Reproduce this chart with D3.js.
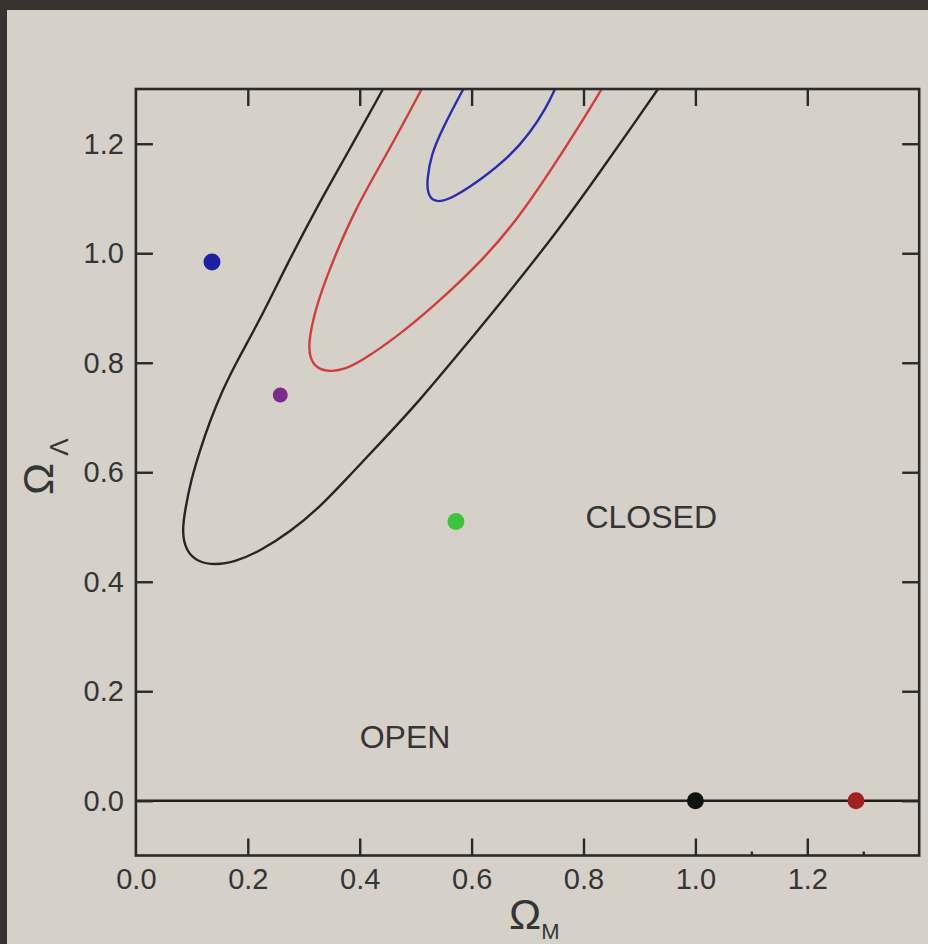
<!DOCTYPE html>
<html>
<head>
<meta charset="utf-8">
<script src="https://cdn.jsdelivr.net/npm/d3@7"></script>
<style>
  html, body { margin: 0; padding: 0; background: #d6d1c8; }
  svg { display: block; }
</style>
</head>
<body>
<script>
// ---- Data ----
const xTicks = [0.0, 0.2, 0.4, 0.6, 0.8, 1.0, 1.2];
const yTicks = [0.0, 0.2, 0.4, 0.6, 0.8, 1.0, 1.2];
const xMinorTicks = [1.1, 1.3];

// Confidence contours, traced points [Omega_M, Omega_Lambda]
const contourOuter = [
  [0.4416, 1.300], [0.3796, 1.1854], [0.3220, 1.0816], [0.2690, 0.9775],
  [0.2230, 0.8811], [0.1800, 0.8018], [0.1550, 0.7501], [0.1330, 0.6954],
  [0.1146, 0.6406], [0.0985, 0.5858], [0.0878, 0.5310], [0.0824, 0.4908],
  [0.0895, 0.4561], [0.1110, 0.4360], [0.1414, 0.4305], [0.1771, 0.4360],
  [0.2218, 0.4561], [0.2754, 0.4908], [0.3290, 0.5364], [0.3827, 0.5949],
  [0.4452, 0.6625], [0.5078, 0.7319], [0.5793, 0.8196], [0.6561, 0.9146],
  [0.7580, 1.0460], [0.8295, 1.1483], [0.8885, 1.2342], [0.9332, 1.300]
];
const contourMiddle = [
  [0.5108, 1.300], [0.4511, 1.1854], [0.3916, 1.0816], [0.3439, 0.9662],
  [0.3201, 0.8962], [0.3081, 0.8354], [0.3112, 0.8086], [0.3219, 0.7903],
  [0.3469, 0.7830], [0.3737, 0.7885], [0.4005, 0.8013], [0.4661, 0.8469],
  [0.5346, 0.9054], [0.6150, 0.9821], [0.6811, 1.0607], [0.7397, 1.1483],
  [0.7934, 1.2342], [0.8325, 1.300]
];
const contourInner = [
  [0.5852, 1.300], [0.5480, 1.2281], [0.5274, 1.1794], [0.5203, 1.1337],
  [0.5212, 1.1100], [0.5310, 1.0953], [0.5471, 1.0944], [0.5703, 1.1036],
  [0.6204, 1.1374], [0.6686, 1.1775], [0.7043, 1.2195], [0.7330, 1.2652],
  [0.7491, 1.300]
];
const contourColors = ["#262626", "#d23c3c", "#2b2db0"];

// Model points
const pointX = [0.136, 0.258, 0.572, 1.0, 1.287];
const pointY = [0.984, 0.741, 0.510, 0.0, 0.0];
const pointColors = ["#1b1fa6", "#7d2a8c", "#3cc43c", "#111111", "#a3201f"];

// Region labels
const regionText = ["CLOSED", "OPEN"];
const regionX = [0.921, 0.481];
const regionY = [0.498, 0.096];

// ---- Layout ----
const W = 928, H = 944;
const margin = { left: 135.9, right: 928 - 919.2, top: 89, bottom: 944 - 855.5 };

const svg = d3.select("body").append("svg").attr("width", W).attr("height", H);

// dark photo border (top and left)
svg.append("rect").attr("x", 0).attr("y", 0).attr("width", W).attr("height", 10).attr("fill", "#3a3230");
svg.append("rect").attr("x", 0).attr("y", 0).attr("width", 7).attr("height", H).attr("fill", "#3a3230");

const x = d3.scaleLinear().domain([0, 1.4]).range([margin.left, W - margin.right]);
const y = d3.scaleLinear().domain([-0.1, 1.3]).range([H - margin.bottom, margin.top]);

const textColor = "#353535";
const tickFont = "Liberation Sans, Arial, sans-serif";

// clip
svg.append("clipPath").attr("id", "plotclip").append("rect")
  .attr("x", x(0)).attr("y", y(1.3)).attr("width", x(1.4) - x(0)).attr("height", y(-0.1) - y(1.3));

const plot = svg.append("g").attr("clip-path", "url(#plotclip)");

// zero line
plot.append("line")
  .attr("x1", x(0)).attr("x2", x(1.4)).attr("y1", y(0)).attr("y2", y(0))
  .attr("stroke", "#1e1e1e").attr("stroke-width", 2.6);

// contours
const line = d3.line().x(d => x(d[0])).y(d => y(d[1])).curve(d3.curveBasis);
[contourOuter, contourMiddle, contourInner].forEach((c, i) => {
  plot.append("path").attr("d", line(c)).attr("fill", "none")
    .attr("stroke", contourColors[i]).attr("stroke-width", 2.4);
});

// points
plot.selectAll("circle.pt").data(pointX.map((v, i) => i)).enter().append("circle")
  .attr("class", "pt")
  .attr("cx", i => x(pointX[i])).attr("cy", i => y(pointY[i]))
  .attr("r", i => i === 1 ? 7.5 : 8.5)
  .attr("fill", i => pointColors[i]);

// region labels
svg.selectAll("text.region").data(regionText).enter().append("text")
  .attr("class", "region")
  .attr("x", (d, i) => x(regionX[i])).attr("y", (d, i) => y(regionY[i]))
  .attr("text-anchor", "middle")
  .attr("font-family", tickFont).attr("font-size", 32)
  .attr("fill", textColor)
  .text(d => d);

// axes
function styleAxis(g) {
  g.select(".domain").remove();
  g.selectAll(".tick line").attr("stroke", "#2a2a2a").attr("stroke-width", 2.4);
  g.selectAll(".tick text").attr("font-family", tickFont).attr("font-size", 29).attr("fill", textColor);
}

svg.append("g").attr("transform", `translate(0,${y(-0.1)})`)
  .call(d3.axisBottom(x).tickValues(xTicks).tickFormat(d3.format(".1f")).tickSizeInner(-17).tickSizeOuter(0).tickPadding(13))
  .call(styleAxis)
  .call(g => g.selectAll(".tick").filter(d => d === 0).select("line").remove());

svg.append("g").attr("transform", `translate(0,${y(-0.1)})`)
  .call(d3.axisBottom(x).tickValues(xMinorTicks).tickFormat("").tickSizeInner(-4).tickSizeOuter(0))
  .call(styleAxis);

svg.append("g").attr("transform", `translate(0,${y(1.3)})`)
  .call(d3.axisTop(x).tickValues(xTicks.filter(v => v > 0)).tickFormat("").tickSizeInner(-17).tickSizeOuter(0))
  .call(styleAxis);

svg.append("g").attr("transform", `translate(${x(0)},0)`)
  .call(d3.axisLeft(y).tickValues(yTicks).tickFormat(d3.format(".1f")).tickSizeInner(-17).tickSizeOuter(0).tickPadding(12))
  .call(styleAxis);

svg.append("g").attr("transform", `translate(${x(1.4)},0)`)
  .call(d3.axisRight(y).tickValues(yTicks).tickFormat("").tickSizeInner(-17).tickSizeOuter(0))
  .call(styleAxis);

// frame
svg.append("rect")
  .attr("x", x(0)).attr("y", y(1.3)).attr("width", x(1.4) - x(0)).attr("height", y(-0.1) - y(1.3))
  .attr("fill", "none").attr("stroke", "#2a2a2a").attr("stroke-width", 2.6);

// axis titles
const xl = svg.append("text").attr("x", 509).attr("y", 929)
  .attr("font-family", tickFont).attr("fill", textColor);
xl.append("tspan").attr("font-size", 43).text("Ω");
xl.append("tspan").attr("font-size", 22).attr("dy", 10).text("M");

const yl = svg.append("text")
  .attr("transform", "translate(53,495) rotate(-90)")
  .attr("font-family", tickFont).attr("fill", textColor);
yl.append("tspan").attr("font-size", 43).text("Ω");
yl.append("tspan").attr("font-size", 26).attr("dx", 7).attr("dy", 15).text("Λ");
</script>
</body>
</html>
